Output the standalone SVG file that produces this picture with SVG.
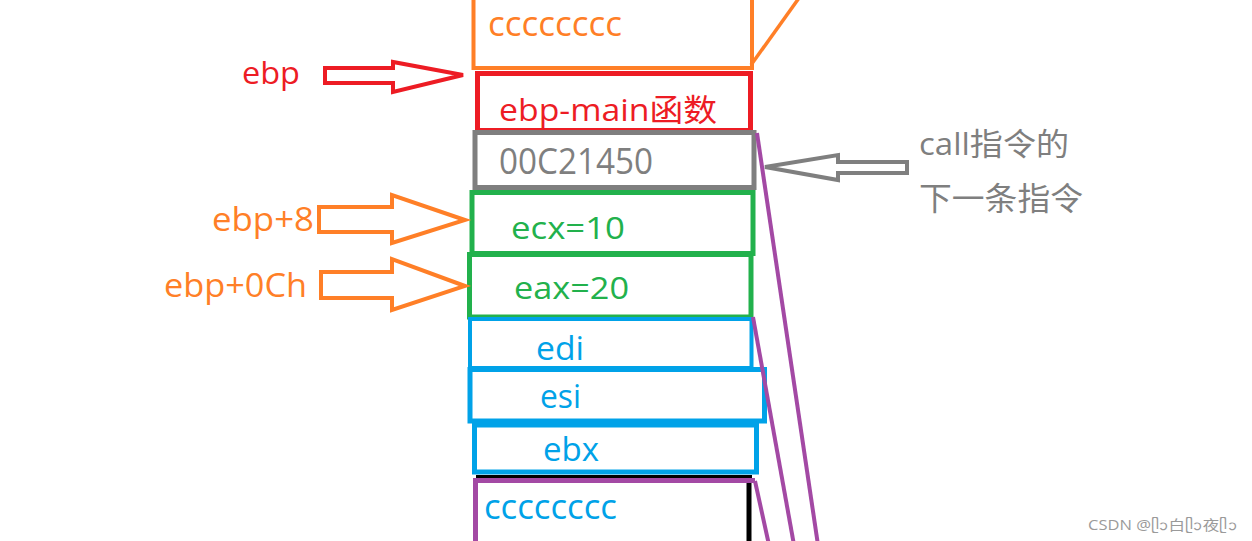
<svg xmlns="http://www.w3.org/2000/svg" width="1252" height="541" viewBox="0 0 1252 541">
<style>
text{font-family:"Open Sans","Noto Sans CJK SC",sans-serif;}
.box{fill:none;}
.rd{stroke:#ED1C24;}
.gy{stroke:#7F7F7F;}
.gn{stroke:#22B14C;}
.bl{stroke:#00A2E8;}
.tor{fill:#FF7F27;}
.trd{fill:#ED1C24;}
.tgy{fill:#7F7F7F;}
.tgn{fill:#22B14C;}
.tbl{fill:#00A2E8;}
.arrow{fill:none;stroke-width:4;stroke-linejoin:miter;}
.pl{fill:none;stroke:#A349A4;stroke-width:4;}
</style>
<rect width="1252" height="541" fill="#ffffff"/>
<g id="node-top-cccc">
<rect class="box" x="473.5" y="-20" width="278.5" height="88" stroke="#FF7F27" stroke-width="4"/>
<text class="tor" x="488" y="36" font-size="35" textLength="134" lengthAdjust="spacingAndGlyphs">cccccccc</text>
</g>
<g id="node-ebp-main">
<rect class="box rd" x="477.5" y="73.5" width="273" height="57" stroke-width="5"/>
<text class="trd" x="499" y="121" font-size="31" textLength="218" lengthAdjust="spacingAndGlyphs">ebp-main函数</text>
</g>
<g id="node-ret">
<rect class="box gy" x="475" y="132.5" width="279" height="55" stroke-width="5"/>
<text class="tgy" x="499" y="174" font-size="36" textLength="154" lengthAdjust="spacingAndGlyphs">00C21450</text>
</g>
<g id="node-ecx">
<rect class="box gn" x="472" y="192.5" width="281" height="61" stroke-width="5"/>
<text class="tgn" x="511" y="239" font-size="31" textLength="114" lengthAdjust="spacingAndGlyphs">ecx=10</text>
</g>
<g id="node-eax">
<rect class="box gn" x="469.5" y="254.5" width="281.5" height="62.5" stroke-width="5"/>
<text class="tgn" x="514" y="299" font-size="31" textLength="115" lengthAdjust="spacingAndGlyphs">eax=20</text>
</g>
<g id="node-edi">
<rect class="box bl" x="470" y="319" width="281.5" height="49" stroke-width="4"/>
<text class="tbl" x="536" y="360" font-size="33" textLength="48" lengthAdjust="spacingAndGlyphs">edi</text>
</g>
<g id="node-esi">
<rect class="box bl" x="470" y="369.5" width="294.5" height="51.5" stroke-width="5"/>
<text class="tbl" x="540" y="408" font-size="33" textLength="41" lengthAdjust="spacingAndGlyphs">esi</text>
</g>
<g id="node-ebx">
<rect class="box bl" x="474.5" y="425" width="282" height="47" stroke-width="5"/>
<text class="tbl" x="543" y="461" font-size="33" textLength="56" lengthAdjust="spacingAndGlyphs">ebx</text>
</g>
<g id="node-bottom-cccc">
<line x1="476" y1="476.5" x2="752" y2="476.5" stroke="#000" stroke-width="3"/>
<line x1="749" y1="480" x2="749" y2="545" stroke="#000" stroke-width="5"/>
<polyline points="475.5,545 475.5,480.5 755,480.5" fill="none" stroke="#A349A4" stroke-width="5"/>
<text class="tbl" x="484" y="519" font-size="35" textLength="133" lengthAdjust="spacingAndGlyphs">cccccccc</text>
</g>
<g id="label-ebp">
<text class="trd" x="242" y="84" font-size="31" textLength="58" lengthAdjust="spacingAndGlyphs">ebp</text>
</g>
<g id="label-ebp8">
<text class="tor" x="212" y="231" font-size="32" textLength="102" lengthAdjust="spacingAndGlyphs">ebp+8</text>
</g>
<g id="label-ebp0ch">
<text class="tor" x="164" y="297" font-size="32" textLength="143" lengthAdjust="spacingAndGlyphs">ebp+0Ch</text>
</g>
<g id="label-call">
<text class="tgy" x="919" y="155" font-size="31" textLength="150" lengthAdjust="spacingAndGlyphs">call指令的</text>
<text class="tgy" x="919" y="210" font-size="32" textLength="164" lengthAdjust="spacingAndGlyphs">下一条指令</text>
</g>
<g id="connectors">
<line x1="751" y1="65" x2="799" y2="-2" stroke="#FF7F27" stroke-width="3.5"/>
<polygon class="arrow" stroke="#ED1C24" points="325,68 393,68 393,62 463,75 393,92 393,83 325,83"/>
<polygon class="arrow" stroke="#FF7F27" points="319,207 392,207 392,195 465,220 392,243 392,232 319,232"/>
<polygon class="arrow" stroke="#FF7F27" points="321,272 392,272 392,259 465,286 392,310 392,298 321,298"/>
<polygon class="arrow" stroke="#7F7F7F" points="765,167 838,155 838,162 907,162 907,173 838,173 838,180"/>
<line class="pl" x1="757" y1="133" x2="818" y2="545"/>
<line class="pl" x1="753" y1="317" x2="794" y2="545"/>
<line class="pl" x1="755" y1="481" x2="769" y2="545"/>
</g>
<g id="watermark">
<text x="1088" y="530" font-size="14" fill="#9a9a9a" textLength="149" lengthAdjust="spacingAndGlyphs">CSDN @ᥫᩣ白ᥫᩣ夜ᥫᩣ</text>
</g>
</svg>
